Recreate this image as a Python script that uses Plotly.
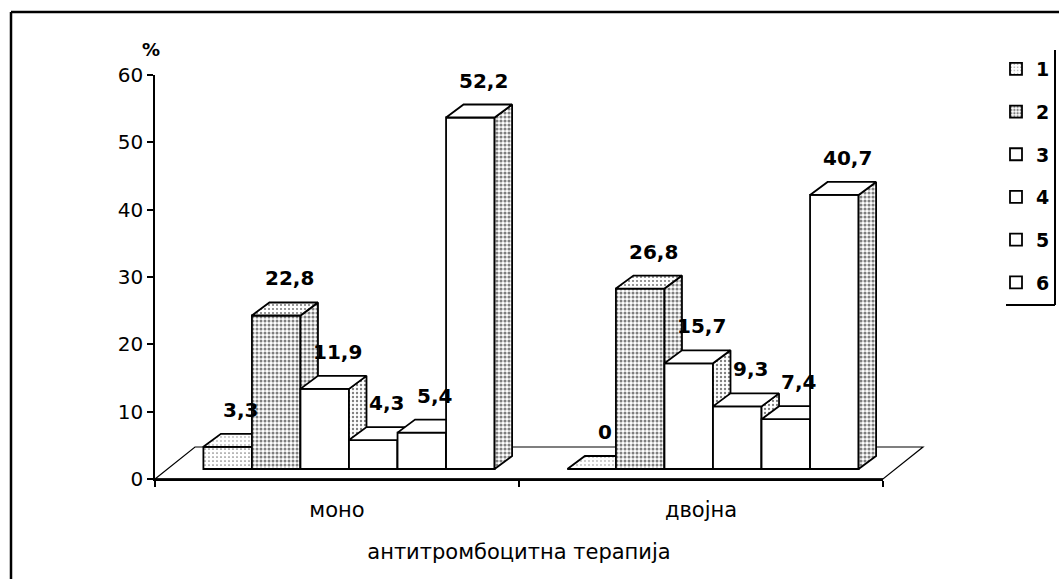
import plotly.graph_objects as go

# ---- data -------------------------------------------------------------
categories = ["моно", "двојна"]
series_names = ["1", "2", "3", "4", "5", "6"]
mono_values = [3.3, 22.8, 11.9, 4.3, 5.4, 52.2]
dvojna_values = [0, 26.8, 15.7, 9.3, 7.4, 40.7]
y_tick_values = [0, 10, 20, 30, 40, 50, 60]

# ---- geometry ---------------------------------------------------------
W, H = 1059, 579
ML, MR, MT, MB = 155, 176, 75, 100
PW = W - ML - MR
PH = H - MT - MB
X_RANGE = (-0.5, 1.5)
Y_MAX = 60
px_per_cat = PW / (X_RANGE[1] - X_RANGE[0])
px_per_unit = PH / Y_MAX

FLOOR_DX, FLOOR_DY = 40, 32      # depth of the floor (px)
PLANE_DX, PLANE_DY = 12, 10      # column front plane behind the axis (px)
BAR_DX, BAR_DY = 17.5, 13        # depth of each column (px)

GROUP_W = 0.8
n_series = len(series_names)
bar_w = GROUP_W / n_series
dx = BAR_DX / px_per_cat
dy = BAR_DY / px_per_unit

FONT = "DejaVu Sans"
EDGE = 1.8

# front / top / side shading of each series (dot-pattern solidity, 0 = white)
front_shade = [0.14, 0.45, 0, 0, 0, 0]
top_shade = [0.10, 0.22, 0, 0, 0, 0]
side_shade = [0.30, 0.48, 0.28, 0.25, 0.25, 0.48]


def px_to_paper(px, py):
    return (px - ML) / PW, (H - MB - py) / PH


def pattern(s):
    if s <= 0:
        return dict(shape="")
    return dict(shape=".", fgcolor="black", bgcolor="white", size=4, solidity=s)


fig = go.Figure()
annotations = []

# front edge of the floor on the main axes
fig.add_trace(go.Scatter(
    x=list(X_RANGE), y=[0, 0], mode="lines", line=dict(color="black", width=1.5),
    showlegend=False, hoverinfo="skip",
))

x_shift_range = [X_RANGE[0] - PLANE_DX / px_per_cat, X_RANGE[1] - PLANE_DX / px_per_cat]
y_shift_range = [-PLANE_DY / px_per_unit, Y_MAX - PLANE_DY / px_per_unit]

for i, name in enumerate(series_names):
    k = i + 2
    xa, ya = f"x{k}", f"y{k}"
    values = [mono_values[i], dvojna_values[i]]
    offset = -GROUP_W / 2 + i * bar_w

    fig.add_trace(go.Bar(
        x=[0, 1], y=values, width=bar_w, offset=offset,
        xaxis=xa, yaxis=ya, name=name, legendgroup=name,
        marker=dict(color="white", line=dict(color="black", width=EDGE),
                    pattern=pattern(front_shade[i])),
        hoverinfo="skip",
    ))

    top_x, top_y, side_x, side_y = [], [], [], []
    for j, v in enumerate(values):
        left = j + offset
        right = left + bar_w
        top_x += [left, right, right + dx, left + dx, left, None]
        top_y += [v, v, v + dy, v + dy, v, None]
        side_x += [right, right + dx, right + dx, right, right, None]
        side_y += [0, dy, v + dy, v, 0, None]
        annotations.append(dict(
            x=left + bar_w / 2, y=v, xref=xa, yref=ya,
            text=f"{v:g}".replace(".", ","), showarrow=False,
            xshift=13, yshift=37,
            font=dict(family=FONT, size=20, color="black", weight="bold"),
        ))

    for fx, fy, shade in ((side_x, side_y, side_shade[i]), (top_x, top_y, top_shade[i])):
        fig.add_trace(go.Scatter(
            x=fx, y=fy, mode="lines", fill="toself", fillcolor="white",
            fillpattern=pattern(shade),
            line=dict(color="black", width=EDGE),
            xaxis=xa, yaxis=ya, showlegend=False, hoverinfo="skip",
        ))

    fig.update_layout({
        f"xaxis{k}": dict(overlaying="x", anchor=ya, range=x_shift_range, visible=False),
        f"yaxis{k}": dict(overlaying="y", anchor=xa, range=y_shift_range, visible=False),
    })

# floor of the 3-D plot
fdx, fdy = FLOOR_DX / PW, FLOOR_DY / PH
shapes = [dict(
    type="path", xref="paper", yref="paper", layer="below",
    path=f"M 0,0 L {fdx},{fdy} L {1 + fdx},{fdy} L 1,0 Z",
    fillcolor="white", line=dict(color="black", width=1.2),
)]

# outer frame and legend frame
def paper_line(x0, y0, x1, y1, w):
    a0, b0 = px_to_paper(x0, y0)
    a1, b1 = px_to_paper(x1, y1)
    return dict(type="line", xref="paper", yref="paper", x0=a0, y0=b0, x1=a1, y1=b1,
                line=dict(color="black", width=w))

shapes += [
    paper_line(11, 12, W, 12, 2.5),
    paper_line(11, 12, 11, H, 2.5),
    paper_line(1055, 50, 1055, 305, 2),
    paper_line(1006, 305, 1055, 305, 2),
]

pct_x, pct_y = px_to_paper(140, 37)
annotations.append(dict(
    x=pct_x, y=pct_y, xref="paper", yref="paper", text="%", showarrow=False,
    font=dict(family=FONT, size=18, color="black", weight="bold"),
))

leg_x, leg_y = px_to_paper(996, 50)

fig.update_layout(
    width=W, height=H,
    margin=dict(l=ML, r=MR, t=MT, b=MB, autoexpand=False),
    paper_bgcolor="white", plot_bgcolor="rgba(0,0,0,0)",
    barmode="overlay",
    showlegend=True,
    legend=dict(
        x=leg_x, y=leg_y, xanchor="left", yanchor="top",
        font=dict(family=FONT, size=19, color="black", weight="bold"),
        bgcolor="rgba(0,0,0,0)", borderwidth=0, tracegroupgap=15,
        itemwidth=30,
    ),
    xaxis=dict(
        range=list(X_RANGE), tickvals=[0, 1], ticktext=categories, ticks="",
        showline=True, linecolor="black", linewidth=1.5, showgrid=False, zeroline=False,
        minor=dict(tickmode="linear", tick0=-0.5, dtick=1, ticks="outside",
                   ticklen=6, tickwidth=1.5, tickcolor="black", showgrid=False),
        tickfont=dict(family=FONT, size=21, color="black"),
        ticklabelstandoff=11,
        title=dict(text="антитромбоцитна терапија", standoff=23,
                   font=dict(family=FONT, size=21, color="black")),
    ),
    yaxis=dict(
        range=[0, Y_MAX], tickvals=y_tick_values, ticks="outside", ticklen=6,
        tickwidth=1.5, tickcolor="black",
        showline=True, linecolor="black", linewidth=1.5, showgrid=False, zeroline=False,
        tickfont=dict(family=FONT, size=20, color="black"),
    ),
    shapes=shapes,
    annotations=annotations,
)

fig.write_html("out.html")
